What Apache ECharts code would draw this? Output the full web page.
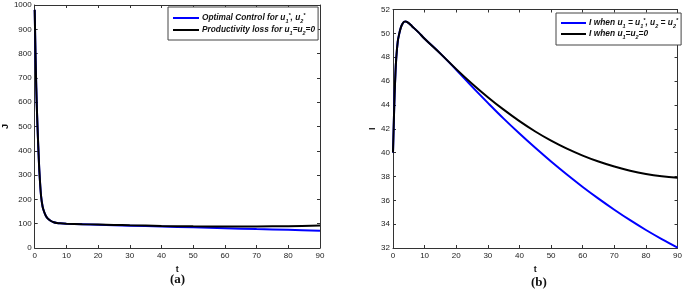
<!DOCTYPE html>
<html><head><meta charset="utf-8">
<script src="https://cdn.jsdelivr.net/npm/echarts@6/dist/echarts.min.js"></script>
<style>html,body{margin:0;padding:0;background:#fff}#c{width:685px;height:290px}</style>
</head><body><div id="c"></div>
<script>
// ---- data (a): productivity loss J
var tJ = [0,0.25,0.5,0.75,1,1.25,1.5,2,2.5,3,3.5,4,5,6,7,8,10,15,20,25,30,40,50,60,70,80,90];
var jControl = [980,800,660,550,460,380,310,215,170,148,133,123,112,106,103,101.5,100,98,96,94,92,88.5,85,81.5,78,75,71];
var jNoControl = [980,800,660,550,460,380,310,215,170,148,133,123,112,106,103,101.5,100,98,96.5,95,93.5,91,89,88,88.5,90,92.5];
// ---- data (b): infected I
var tI = [0,0.25,0.5,0.75,1,1.5,2,2.5,3,3.5,4,4.5,5,6,8,10,15,20,25,30,35,40,45,50,55,60,65,70,75,80,85,90];
var iControl = [40,42.5,44.8,46.5,47.8,49.3,50.0,50.5,50.8,50.97,51.0,50.95,50.85,50.6,50.1,49.55,48.3,46.95,45.53,44.17,42.85,41.6,40.4,39.25,38.16,37.12,36.14,35.21,34.33,33.51,32.75,32.04];
var iNoControl = [40,42.5,44.8,46.5,47.8,49.3,50.0,50.5,50.8,50.97,51.0,50.95,50.85,50.6,50.1,49.55,48.3,47.0,45.78,44.65,43.6,42.64,41.77,41.0,40.33,39.75,39.25,38.83,38.48,38.21,38.02,37.9];
var xTicksMax = 90, xInterval = 10;
var jMin = 0, jMax = 1000, jInterval = 100;
var iMin = 32, iMax = 52, iInterval = 2;

function pairs(t, v){ return t.map(function(x,i){return [x, v[i]];}); }

var axisCol = '#333';
var FF = 'Liberation Sans, Arial, sans-serif';
var lblStyle = {color:'#222', fontSize:8, fontFamily:FF, formatter:function(v){return String(v);}};
function xAx(grid, pos, show){
  return {type:'value', gridIndex:grid, position:pos, min:0, max:xTicksMax, interval:xInterval,
    axisLine:{show:true, onZero:false, lineStyle:{color:axisCol, width:1}},
    axisTick:{show:true, inside:true, length:3, lineStyle:{color:axisCol}},
    axisLabel:Object.assign({show:show, margin:4}, lblStyle),
    splitLine:{show:false},
    name: show ? 't' : '', nameLocation:'middle', nameGap:12,
    nameTextStyle:{fontSize:9, fontWeight:'bold', color:'#111', fontFamily:FF}};
}
function yAx(grid, pos, show, mn, mx, iv, nm, gap){
  return {type:'value', gridIndex:grid, position:pos, min:mn, max:mx, interval:iv,
    axisLine:{show:true, onZero:false, lineStyle:{color:axisCol, width:1}},
    axisTick:{show:true, inside:true, length:3, lineStyle:{color:axisCol}},
    axisLabel:Object.assign({show:show, margin:3}, lblStyle),
    splitLine:{show:false},
    name: show ? nm : '', nameLocation:'middle', nameGap:gap, nameRotate:90,
    nameTextStyle:{fontSize:9, fontWeight:'bold', color:'#111', fontFamily:FF}};
}
function tok(sz, lh, va){
  var o = {fontSize:sz, fontStyle:'italic', fontWeight:'bold', color:'#111', lineHeight:lh, fontFamily:FF};
  if (va) o.verticalAlign = va;
  return o;
}
var rich = {
  b: tok(8.3, 12), sub: tok(5.5, 5, 'bottom'), sup: tok(5.5, 5, 'top'),
  b2: tok(8.4, 12)
};
var labels = {
  'Optimal Control for u1*, u2*': '{b|Optimal Control for u}{sub|1}{sup|*}{b|, u}{sub|2}{sup|*}',
  'Productivity loss for u1=u2=0': '{b|Productivity loss for u}{sub|1}{b|=u}{sub|2}{b|=0}',
  'I when u1 = u1*, u2 = u2*': '{b2|I when u}{sub|1}{b2| = u}{sub|1}{sup|*}{b2|, u}{sub|2}{b2| = u}{sub|2}{sup|*}',
  'I when u1=u2=0': '{b2|I when u}{sub|1}{b2|=u}{sub|2}{b2|=0}'
};
function lg(names, left, top, iw, pad, gap){
  return {data:names, left:left, top:top, orient:'vertical', icon:'rect', itemWidth:iw, itemHeight:2,
    itemGap:gap, padding:pad, borderColor:'#444', borderWidth:1, backgroundColor:'#fff',
    formatter:function(n){return labels[n];}, textStyle:{rich:rich, padding:[0,0,0,-2]}};
}
var smJ = {showSymbol:false, smooth:0.3};
var smI = {showSymbol:false, smooth:0.4};
var chart = echarts.init(document.getElementById('c'), null, {renderer:'canvas'});
chart.setOption({
  animation:false,
  grid:[{left:33, top:5, width:287, height:243}, {left:393, top:9.5, width:287, height:238.5}],
  xAxis:[xAx(0,'bottom',true), xAx(0,'top',false), xAx(1,'bottom',true), xAx(1,'top',false)],
  yAxis:[yAx(0,'left',true,jMin,jMax,jInterval,'J',22), yAx(0,'right',false,jMin,jMax,jInterval,'',0),
         yAx(1,'left',true,iMin,iMax,iInterval,'I',16), yAx(1,'right',false,iMin,iMax,iInterval,'',0)],
  legend:[lg(['Optimal Control for u1*, u2*','Productivity loss for u1=u2=0'],168,7,26,[5,3,4,5],2),
          lg(['I when u1 = u1*, u2 = u2*','I when u1=u2=0'],556,13,25,[4,3,5,5],1)],
  series:[
    Object.assign({name:'Optimal Control for u1*, u2*', type:'line', xAxisIndex:0, yAxisIndex:0, data:pairs(tJ,jControl), lineStyle:{color:'#0000ff', width:2}, itemStyle:{color:'#0000ff'}}, smJ),
    Object.assign({name:'Productivity loss for u1=u2=0', type:'line', xAxisIndex:0, yAxisIndex:0, data:pairs(tJ,jNoControl), lineStyle:{color:'#000', width:2}, itemStyle:{color:'#000'}}, smJ),
    Object.assign({name:'I when u1 = u1*, u2 = u2*', type:'line', xAxisIndex:2, yAxisIndex:2, data:pairs(tI,iControl), lineStyle:{color:'#0000ff', width:2}, itemStyle:{color:'#0000ff'}}, smI),
    Object.assign({name:'I when u1=u2=0', type:'line', xAxisIndex:2, yAxisIndex:2, data:pairs(tI,iNoControl), lineStyle:{color:'#000', width:2}, itemStyle:{color:'#000'}}, smI)
  ],
  graphic:[
    {type:'text', left:170, top:273, style:{text:'(a)', font:'bold 13px "Liberation Serif", serif', fill:'#111'}},
    {type:'text', left:531, top:276, style:{text:'(b)', font:'bold 13px "Liberation Serif", serif', fill:'#111'}}
  ]
});
</script></body></html>
